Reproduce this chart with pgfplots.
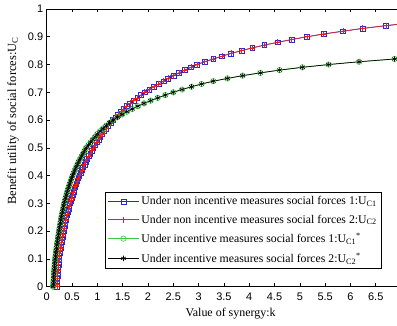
\documentclass[border=0pt]{standalone}
\usepackage{fontspec}
\setmainfont{Liberation Serif}
\newfontfamily\sansfont{Liberation Sans}
\usepackage{pgfplots}
\pgfplotsset{compat=1.18}
\usepackage{pgfplotstable}
\definecolor{mblue}{RGB}{30,40,230}
\definecolor{mred}{RGB}{235,30,30}
\definecolor{mgreen}{RGB}{60,200,60}

\pgfplotstableread{
u k
0.00 0.2000
0.01 0.2035
0.02 0.2070
0.03 0.2106
0.04 0.2141
0.05 0.2176
0.06 0.2227
0.07 0.2278
0.08 0.2328
0.09 0.2379
0.10 0.2430
0.11 0.2506
0.12 0.2581
0.13 0.2657
0.14 0.2732
0.15 0.2808
0.16 0.2906
0.17 0.3005
0.18 0.3103
0.19 0.3202
0.20 0.3300
0.21 0.3418
0.22 0.3536
0.23 0.3654
0.24 0.3772
0.25 0.3890
0.26 0.4032
0.27 0.4174
0.28 0.4316
0.29 0.4458
0.30 0.4600
0.31 0.4769
0.32 0.4938
0.33 0.5106
0.34 0.5275
0.35 0.5444
0.36 0.5645
0.37 0.5846
0.38 0.6048
0.39 0.6249
0.40 0.6450
0.41 0.670
0.42 0.695
0.43 0.720
0.44 0.745
0.45 0.770
0.46 0.800
0.47 0.830
0.48 0.860
0.49 0.890
0.50 0.920
0.51 0.9544
0.52 0.9888
0.53 1.0232
0.54 1.0576
0.55 1.092
0.56 1.1336
0.57 1.1752
0.58 1.2168
0.59 1.2584
0.60 1.300
0.61 1.3552
0.62 1.4104
0.63 1.4656
0.64 1.5208
0.65 1.576
0.66 1.6478
0.67 1.7196
0.68 1.7914
0.69 1.8632
0.70 1.935
0.71 2.0278
0.72 2.1206
0.73 2.2134
0.74 2.3062
0.75 2.399
0.76 2.504
0.77 2.613
0.78 2.727
0.79 2.847
0.80 2.970
0.81 3.12
0.82 3.29
0.83 3.46
0.84 3.64
0.85 3.85
0.86 4.06
0.87 4.30
0.88 4.56
0.89 4.84
0.90 5.14
0.91 5.47
0.92 5.85
0.93 6.24
0.94 6.70
0.95 7.20
}\uppertab

\pgfplotstableread{
u k
0.00 0.1250
0.01 0.1286
0.02 0.1322
0.03 0.1358
0.04 0.1394
0.05 0.1430
0.06 0.1474
0.07 0.1518
0.08 0.1562
0.09 0.1606
0.10 0.1650
0.11 0.1720
0.12 0.1790
0.13 0.1860
0.14 0.1930
0.15 0.2000
0.16 0.2086
0.17 0.2172
0.18 0.2258
0.19 0.2344
0.20 0.2430
0.21 0.2520
0.22 0.2610
0.23 0.2700
0.24 0.2790
0.25 0.2880
0.26 0.2993
0.27 0.3107
0.28 0.3220
0.29 0.3334
0.30 0.3447
0.31 0.3594
0.32 0.3740
0.33 0.3887
0.34 0.4033
0.35 0.4180
0.36 0.4364
0.37 0.4548
0.38 0.4732
0.39 0.4916
0.40 0.5100
0.41 0.534
0.42 0.558
0.43 0.582
0.44 0.606
0.45 0.630
0.46 0.660
0.47 0.690
0.48 0.720
0.49 0.750
0.50 0.780
0.51 0.824
0.52 0.868
0.53 0.912
0.54 0.956
0.55 1.000
0.56 1.0555
0.57 1.1141
0.58 1.1759
0.59 1.2412
0.60 1.310
0.61 1.396
0.62 1.4875
0.63 1.585
0.64 1.689
0.65 1.800
0.66 1.922
0.67 2.053
0.68 2.193
0.69 2.342
0.70 2.500
0.71 2.674
0.72 2.861
0.73 3.06
0.74 3.29
0.75 3.57
0.76 3.87
0.77 4.22
0.78 4.60
0.79 5.05
0.80 5.57
0.81 6.17
0.82 6.87
0.83 7.70
}\lowertab

\begin{document}
\begin{tikzpicture}
\begin{axis}[
  scale only axis, width=350.3bp, height=277.7bp,
  xmin=0, xmax=6.92, ymin=0, ymax=1,
  axis x line*=box, axis y line*=left,
  axis line style={line width=0.6bp},
  xtick={0,0.5,1,1.5,2,2.5,3,3.5,4,4.5,5,5.5,6,6.5},
  ytick={0,0.1,0.2,0.3,0.4,0.5,0.6,0.7,0.8,0.9,1},
  tick align=inside, major tick length=3.5bp,
  tick style={line width=0.6bp, black},
  /pgf/number format/assume math mode=true,
  tick label style={font=\sansfont\fontsize{11}{12}\selectfont},
  xticklabel style={yshift=-3bp},
  xlabel={Value of synergy:k},
  ylabel={Benefit utility of social forces:U\textsubscript{C}},
  xlabel style={font=\fontsize{12}{14}\selectfont, at={(axis description cs:0.525,-0.098)}, anchor=center},
  ylabel style={font=\fontsize{12.5}{14}\selectfont, at={(axis description cs:-0.096,0.597)}, anchor=center},
  legend style={at={(axis description cs:0.1656,0.342)}, anchor=north west,
    draw=black, line width=0.6bp, font=\fontsize{11.8}{13}\selectfont,
    inner sep=2.5bp, row sep=4.5bp},
  legend cell align=left,
  legend image code/.code={\draw[mark repeat=2,mark phase=2,#1] plot coordinates {(0cm,0cm) (0.55cm,0cm) (1.1cm,0cm)};},
]
\coordinate (O) at (rel axis cs:0,0);
\addplot[mblue, line width=0.7bp, mark=square, mark size=2.4bp, mark options={solid, line width=0.6bp}] table[x=k, y=u] {\uppertab};
\addlegendentry{Under non incentive measures social forces 1:U\textsubscript{C1}}
\addplot[mred, line width=0.7bp, mark=+, mark size=3bp, mark options={solid, line width=0.6bp}] table[x=k, y=u] {\uppertab};
\addlegendentry{Under non incentive measures social forces 2:U\textsubscript{C2}}
\addplot[mgreen, line width=0.7bp, mark=o, mark size=2.7bp, mark options={solid, line width=0.6bp}] table[x=k, y=u] {\lowertab};
\addlegendentry{Under incentive measures social forces 1:U\textsubscript{C1}\textsuperscript{*}}
\addplot[black, line width=0.7bp, mark=asterisk, mark size=2.7bp, mark options={solid, line width=0.6bp}] table[x=k, y=u] {\lowertab};
\addlegendentry{Under incentive measures social forces 2:U\textsubscript{C2}\textsuperscript{*}}
\end{axis}
\pgfresetboundingbox
\path (O) ++(-46.7bp,-39.3bp) rectangle ++(397bp,326bp);
\end{tikzpicture}
\end{document}
